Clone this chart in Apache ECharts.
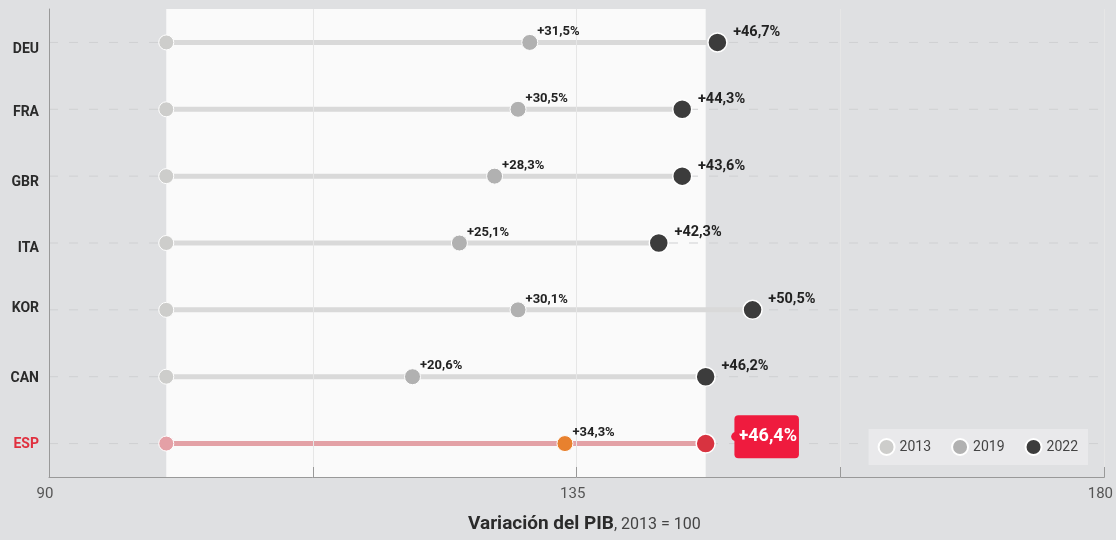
<!DOCTYPE html>
<html>
<head>
<meta charset="utf-8">
<script src="https://cdn.jsdelivr.net/npm/echarts@6/dist/echarts.min.js"></script>
<style>
  html, body { margin: 0; padding: 0; background: #dfe0e2; }
  #chart { width: 1116px; height: 540px; }
</style>
</head>
<body>
<div id="chart"></div>
<script>
// datos
var countries = ['DEU', 'FRA', 'GBR', 'ITA', 'KOR', 'CAN', 'ESP']
var base2013 = [100, 100, 100, 100, 100, 100, 100]
var values2019 = [131, 130, 128, 125, 130, 121, 134]
var values2022 = [147, 144, 144, 142, 150, 146, 146]
var labels2019 = ['+31,5%', '+30,5%', '+28,3%', '+25,1%', '+30,1%', '+20,6%', '+34,3%']
var labels2022 = ['+46,7%', '+44,3%', '+43,6%', '+42,3%', '+50,5%', '+46,2%', '+46,4%']
var bandRange = [100, 146]
var xTicks = [90, 135, 180]

;(function () {
  var chart = echarts.init(document.getElementById('chart'))
  var hl = countries.indexOf('ESP')

  // pequeños ajustes verticales de las etiquetas del eje y
  var labelNudge = [7, 3, 6, 5, -1, 2, 1]
  var rich = {}
  labelNudge.forEach(function (n, i) {
    rich['c' + i] = {
      fontFamily: 'Roboto',
      fontWeight: 'bold',
      fontSize: 14,
      color: i === hl ? '#e0303f' : '#2b2b2b',
      padding: n > 0 ? [n * 2, 0, 0, 0] : [0, 0, -n * 2, 0],
    }
  })

  var withHl = function (arr, color) {
    return arr.map(function (v, i) {
      var item = { value: [v, i] }
      if (i === hl) item.itemStyle = { color: color }
      return item
    })
  }

  var d2022 = withHl(values2022, '#d83340')
  d2022[hl].label = {
    position: [39, -18],
    verticalAlign: 'top',
    color: '#fff',
    fontSize: 18,
    fontWeight: 'bold',
    lineHeight: 21,
    backgroundColor: '#ef1b3e',
    borderRadius: 4,
    padding: [11, 2, 11, 4],
  }

  var option = {
    backgroundColor: '#dfe0e2',
    textStyle: { fontFamily: 'Roboto' },
    title: {
      text: '{b|Variación del PIB}{r|, 2013 = 100}',
      left: 468,
      top: 515,
      padding: 0,
      textStyle: {
        fontWeight: 'normal',
        rich: {
          b: { fontFamily: 'Roboto', fontWeight: 'bold', fontSize: 19, color: '#2b2b2b' },
          r: { fontFamily: 'Roboto', fontWeight: 'normal', fontSize: 16, color: '#444' },
        },
      },
    },
    legend: {
      data: ['2013', '2019', '2022'],
      right: 28,
      top: 429,
      padding: [9, 10, 9, 9],
      backgroundColor: '#e9e9eb',
      icon: 'circle',
      itemWidth: 16,
      itemHeight: 16,
      itemGap: 20,
      textStyle: { color: '#444', fontSize: 14, fontFamily: 'Roboto' },
    },
    grid: { left: 49, right: 11, top: 9, bottom: 63 },
    xAxis: {
      type: 'value',
      min: 90,
      max: 180,
      interval: 22.5,
      axisLine: { show: true, lineStyle: { color: '#999' } },
      axisTick: { show: true, inside: true, length: 10, lineStyle: { color: '#999' } },
      splitLine: { show: true, lineStyle: { color: '#e6e6e6' } },
      axisLabel: {
        color: '#555',
        fontSize: 15,
        margin: 10,
        padding: [0, 8, 0, 0],
        formatter: function (v) {
          return xTicks.indexOf(v) >= 0 ? String(v) : ''
        },
      },
    },
    yAxis: {
      type: 'category',
      inverse: true,
      data: countries,
      axisLine: { show: true, lineStyle: { color: '#999' } },
      axisTick: { show: false },
      splitLine: { show: false },
      axisLabel: {
        margin: 10,
        formatter: function (v, i) {
          return '{c' + i + '|' + v + '}'
        },
        rich: rich,
      },
    },
    series: [
      {
        // franja blanca
        name: 'band',
        type: 'line',
        data: [],
        z: -2,
        silent: true,
        markArea: {
          silent: true,
          z: -2,
          itemStyle: { color: '#fafafa' },
          data: [[{ xAxis: bandRange[0] }, { xAxis: bandRange[1] }]],
        },
      },
      {
        // líneas guía y barras
        name: 'stems',
        type: 'custom',
        z: -1,
        silent: true,
        data: values2022.map(function (v, i) {
          return [v, i]
        }),
        encode: { x: 0, y: 1 },
        renderItem: function (params, api) {
          var i = params.dataIndex
          var a = api.coord([90, i])
          var b = api.coord([180, i])
          var s = api.coord([base2013[i], i])
          var e = api.coord([api.value(0), i])
          return {
            type: 'group',
            children: [
              {
                type: 'line',
                shape: { x1: a[0], y1: a[1], x2: b[0], y2: b[1] },
                style: { stroke: '#cfd0d2', lineWidth: 1, lineDash: [9, 11] },
              },
              {
                type: 'line',
                shape: { x1: s[0], y1: s[1], x2: e[0], y2: e[1] },
                style: { stroke: i === hl ? '#e3a1a6' : '#d9d9d9', lineWidth: 5 },
              },
            ],
          }
        },
      },
      {
        name: '2013',
        type: 'scatter',
        symbolSize: 15,
        itemStyle: { color: '#cdcdcb', borderColor: '#fff', borderWidth: 1, opacity: 1 },
        data: withHl(base2013, '#e4a0a6'),
      },
      {
        name: '2019',
        type: 'scatter',
        symbolSize: 16,
        itemStyle: { color: '#b1b1b1', borderColor: '#fff', borderWidth: 1, opacity: 1 },
        label: {
          show: true,
          position: [16, -2],
          align: 'left',
          verticalAlign: 'middle',
          fontSize: 13,
          fontWeight: 'bold',
          color: '#222',
          formatter: function (p) {
            return labels2019[p.dataIndex]
          },
        },
        data: withHl(values2019, '#e8812e'),
      },
      {
        name: '2022',
        type: 'scatter',
        symbolSize: 19,
        z: 3,
        itemStyle: { color: '#3c3c3c', borderColor: '#fff', borderWidth: 1.5, opacity: 1 },
        label: {
          show: true,
          position: [26, 0],
          align: 'left',
          verticalAlign: 'middle',
          fontSize: 14.5,
          fontWeight: 'bold',
          color: '#222',
          formatter: function (p) {
            return labels2022[p.dataIndex]
          },
        },
        data: d2022,
      },
      {
        // pico de la etiqueta destacada
        name: 'pointer',
        type: 'scatter',
        silent: true,
        symbolSize: 9,
        symbolOffset: [30, -7],
        itemStyle: { color: '#ef1b3e', opacity: 1 },
        z: 4,
        data: [[values2022[hl], hl]],
      },
    ],
  }

  chart.setOption(option)
})()
</script>
</body>
</html>
